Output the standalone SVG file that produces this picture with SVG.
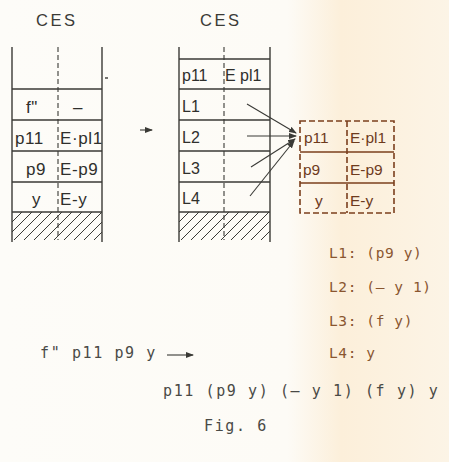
<svg xmlns="http://www.w3.org/2000/svg" width="449" height="462" viewBox="0 0 449 462">
<style>
.ink{stroke:#3a3a36;stroke-width:1.4;fill:none}
.dash{stroke:#3a3a36;stroke-width:1.1;fill:none;stroke-dasharray:5 3}
.hatch{stroke:#3a3a36;stroke-width:1;fill:none}
.t{font-family:"Liberation Sans",Arial,sans-serif;font-size:17px;fill:#2f2f2c;letter-spacing:0.6px}
.t2{font-family:"Liberation Sans",Arial,sans-serif;font-size:16px;fill:#2f2f2c}
.ces{font-family:"Liberation Sans",Arial,sans-serif;font-size:16.5px;fill:#3a3a36;letter-spacing:2.5px}
.br{stroke:#7b3f1d;stroke-width:1.6;fill:none}
.brd{stroke:#7b3f1d;stroke-width:1.6;fill:none;stroke-dasharray:6 3}
.tb{font-family:"Liberation Sans",Arial,sans-serif;font-size:15.5px;fill:#6e3a1c}
.lab{font-family:"DejaVu Sans Mono","Liberation Mono",monospace;font-size:14.5px;fill:#8a5630;letter-spacing:0.6px}
.bot{font-family:"DejaVu Sans Mono","Liberation Mono",monospace;font-size:15px;fill:#4a4a46;letter-spacing:1.6px}
.arr{stroke:#3a3a36;stroke-width:1.1;fill:none}
</style>
<defs>
<marker id="ah" markerWidth="8" markerHeight="6" refX="7" refY="3" orient="auto" markerUnits="userSpaceOnUse">
<path d="M0,0 L8,3 L0,6 Z" fill="#3a3a36"/>
</marker>
<linearGradient id="bg" x1="0" y1="0" x2="1" y2="0">
<stop offset="0" stop-color="#fdfcf8"/>
<stop offset="0.64" stop-color="#fdfbf6"/>
<stop offset="0.76" stop-color="#fcefda"/>
<stop offset="1" stop-color="#fcf4e6"/>
</linearGradient>
</defs>
<rect width="449" height="462" fill="url(#bg)"/>

<g id="stack-left">
<text class="ces" x="36" y="26">CES</text>
<line class="ink" x1="12" y1="47" x2="12" y2="242"/>
<line class="ink" x1="102" y1="47" x2="102" y2="242"/>
<line class="dash" x1="58" y1="47" x2="58" y2="240"/>
<line class="ink" x1="105" y1="78" x2="108" y2="78"/>
<line class="ink" x1="12" y1="89" x2="102" y2="89"/>
<line class="ink" x1="12" y1="120" x2="102" y2="120"/>
<line class="ink" x1="12" y1="151" x2="102" y2="151"/>
<line class="ink" x1="12" y1="182" x2="102" y2="182"/>
<line class="ink" x1="12" y1="212" x2="102" y2="212"/>
<path class="hatch" d="M12,222 L22,212 M12,232 L32,212 M14,240 L42,212 M24,240 L52,212 M34,240 L62,212 M44,240 L72,212 M54,240 L82,212 M64,240 L92,212 M74,240 L102,212 M84,240 L102,222 M94,240 L102,232"/>
<text class="t" x="26" y="113">f"</text>
<text class="t" x="73" y="113">–</text>
<text class="t" x="15" y="144">p11</text>
<text class="t" x="60" y="144">E·pl1</text>
<text class="t" x="26" y="175">p9</text>
<text class="t" x="60" y="175">E-p9</text>
<text class="t" x="32" y="205">y</text>
<text class="t" x="60" y="205">E-y</text>
</g>

<g id="stack-mid">
<text class="ces" x="200" y="26">CES</text>
<line class="ink" x1="179" y1="47" x2="179" y2="242"/>
<line class="ink" x1="270" y1="47" x2="270" y2="242"/>
<line class="dash" x1="224" y1="47" x2="224" y2="240"/>
<line class="ink" x1="179" y1="59" x2="270" y2="59"/>
<line class="ink" x1="179" y1="89" x2="270" y2="89"/>
<line class="ink" x1="179" y1="120" x2="270" y2="120"/>
<line class="ink" x1="179" y1="151" x2="270" y2="151"/>
<line class="ink" x1="179" y1="182" x2="270" y2="182"/>
<line class="ink" x1="179" y1="212" x2="270" y2="212"/>
<path class="hatch" d="M179,222 L189,212 M179,232 L199,212 M181,240 L209,212 M191,240 L219,212 M201,240 L229,212 M211,240 L239,212 M221,240 L249,212 M231,240 L259,212 M241,240 L269,212 M251,240 L270,221 M261,240 L270,231"/>
<text class="t2" x="182" y="81">p11</text>
<text class="t2" x="225" y="81">E pl1</text>
<text class="t2" x="182" y="112">L1</text>
<text class="t2" x="182" y="143">L2</text>
<text class="t2" x="182" y="174">L3</text>
<text class="t2" x="182" y="204">L4</text>
</g>

<g id="box-env">
<rect class="brd" x="300" y="121" width="94" height="92"/>
<line class="br" x1="300" y1="152" x2="394" y2="152"/>
<line class="br" x1="300" y1="183" x2="394" y2="183"/>
<line class="brd" x1="347" y1="121" x2="347" y2="213"/>
<text class="tb" x="304" y="143">p11</text>
<text class="tb" x="350" y="143">E·pl1</text>
<text class="tb" x="303" y="175">p9</text>
<text class="tb" x="350" y="175">E-p9</text>
<text class="tb" x="315" y="206">y</text>
<text class="tb" x="350" y="206">E-y</text>
</g>

<g id="connectors">
<line class="arr" x1="140" y1="130" x2="152" y2="130" marker-end="url(#ah)"/>
<line class="arr" x1="247" y1="104" x2="296" y2="133" marker-end="url(#ah)"/>
<line class="arr" x1="247" y1="136" x2="296" y2="136" marker-end="url(#ah)"/>
<line class="arr" x1="251" y1="167" x2="295" y2="139" marker-end="url(#ah)"/>
<line class="arr" x1="250" y1="196" x2="294" y2="141" marker-end="url(#ah)"/>
<line class="arr" x1="167" y1="355" x2="193" y2="355" marker-end="url(#ah)"/>
</g>

<g id="labels">
<text class="lab" x="329" y="258">L1: (p9 y)</text>
<text class="lab" x="329" y="292">L2: (– y 1)</text>
<text class="lab" x="329" y="326">L3: (f y)</text>
<text class="lab" x="329" y="358">L4: y</text>
<text class="bot" x="40" y="358">f" p11 p9 y</text>
<text class="bot" x="163" y="396">p11 (p9 y) (– y 1) (f y) y</text>
<text class="bot" x="204" y="431">Fig. 6</text>
</g>
</svg>
